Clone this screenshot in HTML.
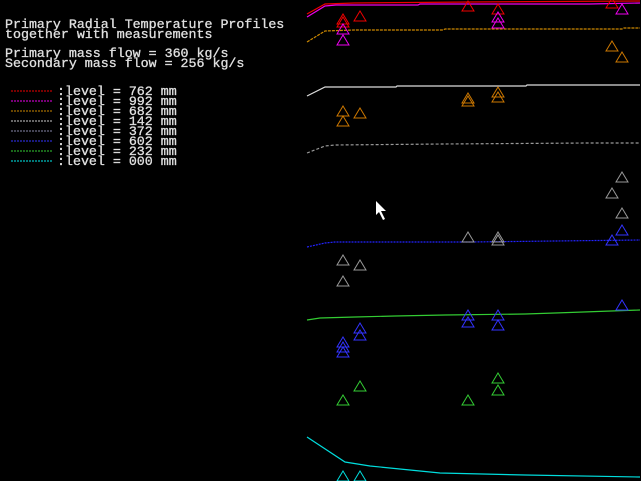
<!DOCTYPE html>
<html><head><style>
html,body{margin:0;padding:0;background:#000;}
svg{display:block}
text{font-family:"Liberation Mono",monospace;font-size:13.3px;fill:#e0e0e0;stroke:#e0e0e0;stroke-width:0.3;}
</style></head><body>
<svg width="641" height="481" viewBox="0 0 641 481" xmlns="http://www.w3.org/2000/svg">
<defs><path id="t" d="M0,-10 L6,0 L-6,0Z" fill="none" stroke-width="1"/></defs>
<rect width="641" height="481" fill="#000"/>
<text x="5" y="28">Primary Radial Temperature Profiles</text>
<text x="5" y="38">together with measurements</text>
<text x="5" y="57">Primary mass flow = 360 kg/s</text>
<text x="5" y="67">Secondary mass flow = 256 kg/s</text>
<g stroke-width="1" stroke-dasharray="2,1">
<line x1="11" y1="91" x2="52" y2="91" stroke="#e00"/>
<line x1="11" y1="101" x2="52" y2="101" stroke="#e0e"/>
<line x1="11" y1="111" x2="52" y2="111" stroke="#c80"/>
<line x1="11" y1="121" x2="52" y2="121" stroke="#ccc"/>
<line x1="11" y1="131" x2="52" y2="131" stroke="#88a"/>
<line x1="11" y1="141" x2="52" y2="141" stroke="#33f"/>
<line x1="11" y1="151" x2="52" y2="151" stroke="#3c3"/>
<line x1="11" y1="161" x2="52" y2="161" stroke="#0ee"/>
</g>
<text x="57" y="95">:level = 762 mm</text>
<text x="57" y="105">:level = 992 mm</text>
<text x="57" y="115">:level = 682 mm</text>
<text x="57" y="125">:level = 142 mm</text>
<text x="57" y="135">:level = 372 mm</text>
<text x="57" y="145">:level = 602 mm</text>
<text x="57" y="155">:level = 232 mm</text>
<text x="57" y="165">:level = 000 mm</text>
<g fill="none" stroke-width="1.2">
<polyline stroke="#e00" points="307,14 325,4 354,3 470,2 640,1"/>
<polyline stroke="#e0e" points="307,17 325,6 336,5 418,5 420,4 590,4 640,3"/>
<polyline stroke="#c80" stroke-dasharray="3,1" points="307,42 325,31 354,30 443,30 445,29 622,29 624,28 640,28"/>
<polyline stroke="#ddd" points="307,96 325,87 396,87 397,86 526,86 527,85 640,85"/>
<polyline stroke="#999" stroke-dasharray="3,2" points="307,153 325,146 335,145 443,144 588,143 640,143"/>
<polyline stroke="#22f" stroke-dasharray="2,1" points="307,247 325,243 335,242 470,242 555,241 640,240"/>
<polyline stroke="#3c3" points="307,320 320,318 355,317 395,316 445,315 525,314 555,313 640,310"/>
<polyline stroke="#0dd" points="307,437 345,462 370,466 440,473 525,475 640,477"/>
</g>
<g stroke="#e00">
<use href="#t" x="343" y="24"/><use href="#t" x="343" y="27"/><use href="#t" x="360" y="21"/>
<use href="#t" x="468" y="11"/><use href="#t" x="498" y="14"/><use href="#t" x="612" y="8"/>
</g>
<g stroke="#e0e">
<use href="#t" x="343" y="34"/><use href="#t" x="343" y="45"/>
<use href="#t" x="498" y="22"/><use href="#t" x="498" y="28"/><use href="#t" x="622" y="14"/>
</g>
<g stroke="#c70">
<use href="#t" x="612" y="51"/><use href="#t" x="622" y="62"/>
<use href="#t" x="468" y="103"/><use href="#t" x="468" y="106"/>
<use href="#t" x="498" y="97"/><use href="#t" x="498" y="102"/>
<use href="#t" x="343" y="116"/><use href="#t" x="343" y="126"/><use href="#t" x="360" y="118"/>
</g>
<g stroke="#999">
<use href="#t" x="622" y="182"/><use href="#t" x="612" y="198"/><use href="#t" x="622" y="218"/>
<use href="#t" x="468" y="242"/><use href="#t" x="498" y="245"/><use href="#t" x="498" y="242"/>
<use href="#t" x="343" y="265"/><use href="#t" x="360" y="270"/><use href="#t" x="343" y="286"/>
</g>
<g stroke="#33f">
<use href="#t" x="622" y="235"/><use href="#t" x="612" y="245"/><use href="#t" x="622" y="310"/>
<use href="#t" x="343" y="357"/><use href="#t" x="343" y="352"/><use href="#t" x="343" y="347"/>
<use href="#t" x="360" y="340"/><use href="#t" x="360" y="333"/>
<use href="#t" x="468" y="327"/><use href="#t" x="468" y="320"/>
<use href="#t" x="498" y="330"/><use href="#t" x="498" y="320"/>
</g>
<g stroke="#3c3">
<use href="#t" x="360" y="391"/><use href="#t" x="343" y="405"/><use href="#t" x="468" y="405"/>
<use href="#t" x="498" y="383"/><use href="#t" x="498" y="395"/>
</g>
<g stroke="#0dd">
<use href="#t" x="343" y="481"/><use href="#t" x="360" y="481"/>
</g>
<path d="M376,201 L376,215 L379,212 L383,220 L385,219 L381,211 L386,211 Z" fill="#fff"/>
</svg>
</body></html>
